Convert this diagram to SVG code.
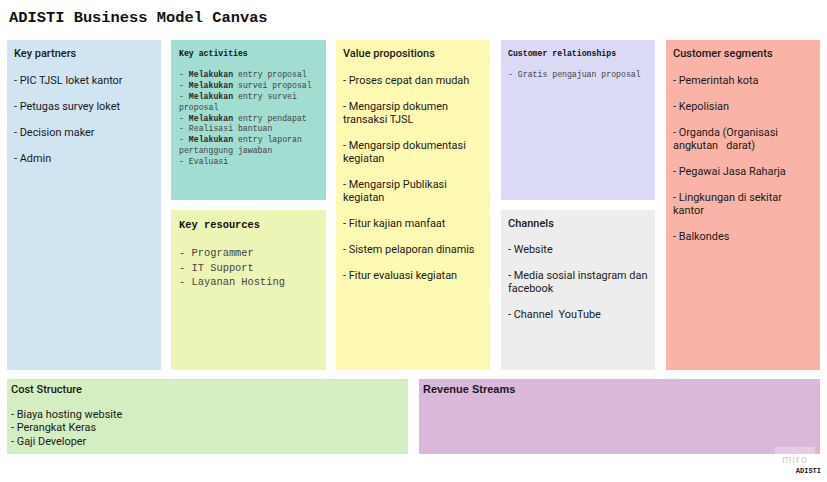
<svg xmlns="http://www.w3.org/2000/svg" width="827" height="482" viewBox="0 0 827 482">
  <style>
    .title { font-family: "Liberation Mono", "DejaVu Sans Mono", monospace; font-weight: bold; font-size: 15.4px; fill: #111; }
    .h { font-family: Roboto, "Liberation Sans", sans-serif; font-weight: 500; font-size: 11px; fill: #1a1a1a; }
    .t { font-family: Roboto, "Liberation Sans", sans-serif; font-size: 10.9px; fill: #1a1a1a; }
    .mh { font-family: "Liberation Mono", "DejaVu Sans Mono", monospace; font-weight: bold; font-size: 8.2px; fill: #111; }
    .mt { font-family: "Liberation Mono", "DejaVu Sans Mono", monospace; font-size: 8.2px; fill: #444; }
    .mb { font-weight: bold; fill: #2a2a2a; }
    .rh { font-family: "Liberation Mono", "DejaVu Sans Mono", monospace; font-weight: bold; font-size: 10.4px; fill: #111; }
    .rt { font-family: "Liberation Mono", "DejaVu Sans Mono", monospace; font-size: 10.4px; fill: #444; }
  </style>

  <rect width="827" height="482" fill="#ffffff"/>

  <text class="title" x="9" y="22">ADISTI Business Model Canvas</text>

  <g id="key-partners">
    <rect x="7" y="40" width="154" height="330" fill="#d0e4f2"/>
    <text class="h" x="14" y="57">Key partners</text>
    <text class="t" x="14" y="84">- PIC TJSL loket kantor</text>
    <text class="t" x="14" y="110">- Petugas survey loket</text>
    <text class="t" x="14" y="136">- Decision maker</text>
    <text class="t" x="14" y="162">- Admin</text>
  </g>

  <g id="key-activities">
    <rect x="171" y="40" width="155" height="160" fill="#a1ddd0"/>
    <text class="mh" x="179" y="56">Key activities</text>
    <text class="mt" x="179" y="77">- <tspan class="mb">Melakukan</tspan> entry proposal</text>
    <text class="mt" x="179" y="88">- <tspan class="mb">Melakukan</tspan> survei proposal</text>
    <text class="mt" x="179" y="99">- <tspan class="mb">Melakukan</tspan> entry survei</text>
    <text class="mt" x="179" y="110">proposal</text>
    <text class="mt" x="179" y="120.5">- <tspan class="mb">Melakukan</tspan> entry pendapat</text>
    <text class="mt" x="179" y="131">- Realisasi bantuan</text>
    <text class="mt" x="179" y="142">- <tspan class="mb">Melakukan</tspan> entry laporan</text>
    <text class="mt" x="179" y="153">pertanggung jawaban</text>
    <text class="mt" x="179" y="164">- Evaluasi</text>
  </g>

  <g id="key-resources">
    <rect x="171" y="210" width="155" height="160" fill="#ecf5b6"/>
    <text class="rh" x="179" y="228">Key resources</text>
    <text class="rt" x="179" y="256">- Programmer</text>
    <text class="rt" x="179" y="271">- IT Support</text>
    <text class="rt" x="179" y="285">- Layanan Hosting</text>
  </g>

  <g id="value-propositions">
    <rect x="336" y="40" width="154" height="330" fill="#fef9b3"/>
    <text class="h" x="343" y="57">Value propositions</text>
    <text class="t" x="343" y="84">- Proses cepat dan mudah</text>
    <text class="t" x="343" y="110">- Mengarsip dokumen</text>
    <text class="t" x="343" y="123">transaksi TJSL</text>
    <text class="t" x="343" y="149">- Mengarsip dokumentasi</text>
    <text class="t" x="343" y="162">kegiatan</text>
    <text class="t" x="343" y="188">- Mengarsip Publikasi</text>
    <text class="t" x="343" y="201">kegiatan</text>
    <text class="t" x="343" y="227">- Fitur kajian manfaat</text>
    <text class="t" x="343" y="253">- Sistem pelaporan dinamis</text>
    <text class="t" x="343" y="279">- Fitur evaluasi kegiatan</text>
  </g>

  <g id="customer-relationships">
    <rect x="501" y="40" width="154" height="160" fill="#dbdaf6"/>
    <text class="mh" x="508" y="56">Customer relationships</text>
    <text class="mt" x="508" y="77">- Gratis pengajuan proposal</text>
  </g>

  <g id="channels">
    <rect x="501" y="210" width="154" height="160" fill="#ededed"/>
    <text class="h" x="508" y="227">Channels</text>
    <text class="t" x="508" y="253">- Website</text>
    <text class="t" x="508" y="279">- Media sosial instagram dan</text>
    <text class="t" x="508" y="292">facebook</text>
    <text class="t" x="508" y="318" xml:space="preserve">- Channel  YouTube</text>
  </g>

  <g id="customer-segments">
    <rect x="666" y="40" width="154" height="330" fill="#f9b4a7"/>
    <text class="h" x="673" y="57">Customer segments</text>
    <text class="t" x="673" y="84">- Pemerintah kota</text>
    <text class="t" x="673" y="110">- Kepolisian</text>
    <text class="t" x="673" y="136">- Organda (Organisasi</text>
    <text class="t" x="673" y="149" xml:space="preserve">angkutan   darat)</text>
    <text class="t" x="673" y="175">- Pegawai Jasa Raharja</text>
    <text class="t" x="673" y="201">- Lingkungan di sekitar</text>
    <text class="t" x="673" y="214">kantor</text>
    <text class="t" x="673" y="240">- Balkondes</text>
  </g>

  <g id="cost-structure">
    <rect x="7" y="379" width="401" height="75" fill="#d4edc1"/>
    <text class="h" x="11" y="393">Cost Structure</text>
    <text class="t" x="11" y="418">- Biaya hosting website</text>
    <text class="t" x="11" y="431">- Perangkat Keras</text>
    <text class="t" x="11" y="445">- Gaji Developer</text>
  </g>

  <g id="revenue-streams">
    <rect x="419" y="379" width="401" height="75" fill="#d9b8dc"/>
    <text class="h" x="423" y="393" style="font-family: 'Liberation Sans', Arial, sans-serif; font-weight: bold;">Revenue Streams</text>
  </g>

  <g id="connectors"></g>

  <g id="footer">
    <rect x="775" y="447" width="40" height="19" fill="#ffffff" fill-opacity="0.3"/>
    <text x="795" y="463" text-anchor="middle" style="font-family: 'Open Sans', sans-serif; font-size: 10px; letter-spacing: 1px; fill: #c8c8c8;">miro</text>
    <text x="821" y="473" text-anchor="end" style="font-family: 'Liberation Mono', monospace; font-weight: bold; font-size: 7px; fill: #222;">ADISTI</text>
  </g>
</svg>
